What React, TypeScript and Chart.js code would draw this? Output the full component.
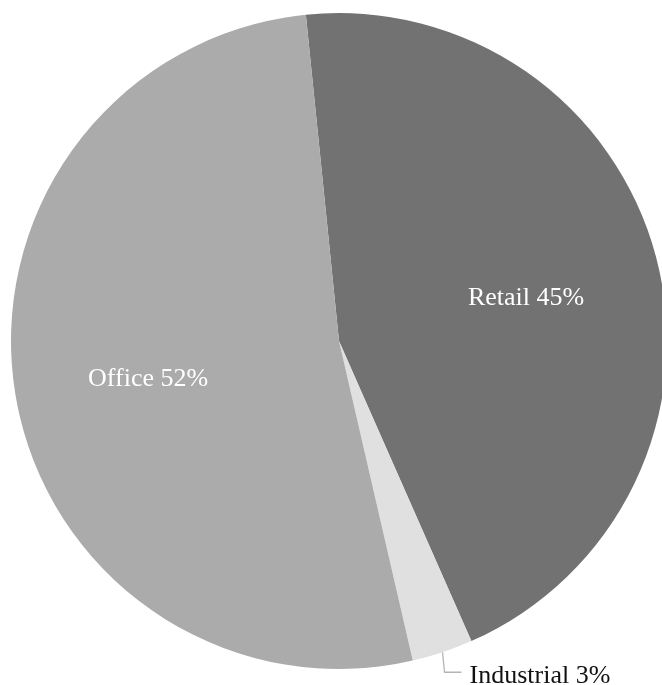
import React, { useEffect, useRef } from "react";
import { Chart, registerables } from "chart.js";

Chart.register(...registerables);

const categories = ["Retail", "Industrial", "Office"];
const shares = [45, 3, 52];
const sliceColors = ["#727272", "#e0e0e0", "#ababab"];
const insideLabel = [true, false, true];

const FONT = '26px "Liberation Serif", "Times New Roman", serif';

const labelPlugin = {
  id: "sliceLabels",
  afterDatasetsDraw(chart: any) {
    const ctx = chart.ctx;
    const meta = chart.getDatasetMeta(0);
    ctx.save();
    ctx.font = FONT;
    meta.data.forEach((arc: any, i: number) => {
      const { x, y, startAngle, endAngle, outerRadius } = arc.getProps(
        ["x", "y", "startAngle", "endAngle", "outerRadius"],
        true
      );
      const mid = (startAngle + endAngle) / 2;
      const text = `${categories[i]} ${shares[i]}%`;
      if (insideLabel[i]) {
        const r = outerRadius * 0.59;
        ctx.fillStyle = "#ffffff";
        ctx.textAlign = "center";
        ctx.textBaseline = "alphabetic";
        ctx.fillText(text, x + Math.cos(mid) * r, y + Math.sin(mid) * r + 13);
      } else {
        const ex = x + Math.cos(mid) * outerRadius;
        const ey = y + Math.sin(mid) * outerRadius;
        const ly = ey + 20;
        ctx.strokeStyle = "#b5b5b5";
        ctx.lineWidth = 1.3;
        ctx.beginPath();
        ctx.moveTo(ex, ey);
        ctx.lineTo(ex + 2, ly);
        ctx.lineTo(ex + 19, ly);
        ctx.stroke();
        ctx.fillStyle = "#111111";
        ctx.textAlign = "left";
        ctx.textBaseline = "alphabetic";
        ctx.fillText(text, ex + 27, ly + 11);
      }
    });
    ctx.restore();
  },
};

export default function App() {
  const ref = useRef<HTMLCanvasElement | null>(null);
  useEffect(() => {
    if (!ref.current) return;
    const chart = new Chart(ref.current, {
      type: "pie",
      data: {
        labels: categories,
        datasets: [
          {
            data: shares,
            backgroundColor: sliceColors,
            borderWidth: 0,
            hoverOffset: 0,
          },
        ],
      },
      options: {
        responsive: false,
        animation: false,
        devicePixelRatio: 1,
        rotation: -5.8,
        layout: { padding: { left: 11, top: 13, right: 13, bottom: 16 } },
        events: [],
        plugins: {
          legend: { display: false },
          tooltip: { enabled: false },
        },
      },
      plugins: [labelPlugin],
    });
    return () => chart.destroy();
  }, []);
  return (
    <div
      style={{
        position: "fixed",
        left: 0,
        top: 0,
        width: 662,
        height: 685,
        overflow: "hidden",
        background: "#ffffff",
      }}
    >
      <canvas ref={ref} width={680} height={685} style={{ display: "block" }} />
    </div>
  );
}
